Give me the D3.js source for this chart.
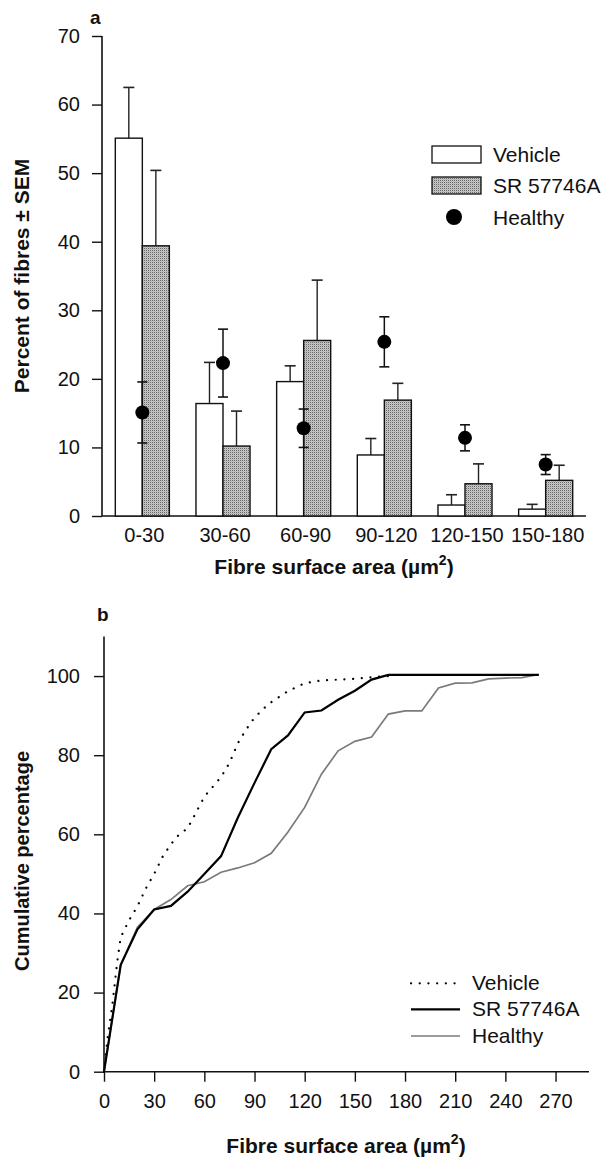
<!DOCTYPE html>
<html><head><meta charset="utf-8">
<script src="https://cdn.jsdelivr.net/npm/d3@7"></script>
<style>body{margin:0;background:#fff} text{font-family:Arial,"Liberation Sans",Helvetica,sans-serif;fill:#111}</style>
</head><body><svg id="c" width="605" height="1162" xmlns="http://www.w3.org/2000/svg"></svg>
<script>
// ---------- Panel a data ----------
const categories = ["0-30","30-60","60-90","90-120","120-150","150-180"];
const vehicleMean = [55.1,16.4,19.6,8.9,1.6,1.0];
const vehicleSem  = [7.4,6.0,2.3,2.4,1.5,0.7];
const srMean      = [39.4,10.2,25.6,16.9,4.7,5.2];
const srSem       = [11.0,5.1,8.8,2.45,2.9,2.2];
const healthyMean = [15.1,22.3,12.8,25.4,11.4,7.5];
const healthySem  = [4.45,4.95,2.8,3.65,1.9,1.45];
const yTicksA = [0,10,20,30,40,50,60,70];
const legendA = ["Vehicle","SR 57746A","Healthy"];

// ---------- Panel b data ----------
const vehicleCum = [[0,0],[2,8],[5,17],[8,28],[10,34],[15,38.3],[20,41.8],[25,46.3],[30,50],[35,54.3],[40,57.5],[45,60],[50,61.5],[55,65.5],[60,69.5],[65,72],[70,74.5],[75,78],[80,83],[85,86.5],[90,89.5],[97,92.4],[100,93.4],[110,96.2],[120,98.2],[130,98.9],[140,99.1],[150,99.3],[160,99.7],[170,100]];
const srCum = [[0,0],[10,27],[20,36],[30,41],[40,41.9],[50,45.5],[60,50],[70,54.5],[80,64.2],[90,73],[100,81.5],[110,85],[120,90.8],[130,91.3],[140,94],[150,96.3],[160,99.1],[170,100.3],[180,100.3],[200,100.3],[220,100.3],[240,100.3],[260,100.3]];
const healthyCum = [[0,0],[10,27],[20,36.5],[30,41],[40,43.5],[50,47],[60,48],[70,50.4],[80,51.5],[90,52.8],[100,55.2],[110,60.6],[120,66.8],[130,75.2],[140,81.1],[150,83.5],[160,84.6],[170,90.4],[180,91.2],[190,91.2],[200,97],[210,98.2],[220,98.3],[230,99.3],[240,99.5],[250,99.6],[260,100.4]];
const yTicksB = [0,20,40,60,80,100];
const xTicksB = [0,30,60,90,120,150,180,210,240,270];
const legendB = ["Vehicle","SR 57746A","Healthy"];

const svg = d3.select("#c");
const defs = svg.append("defs");
const pat = defs.append("pattern").attr("id","stip").attr("patternUnits","userSpaceOnUse").attr("width",2).attr("height",2);
pat.append("rect").attr("width",2).attr("height",2).attr("fill","#c9c9c9");
pat.append("rect").attr("width",1).attr("height",1).attr("fill","#666");
pat.append("rect").attr("x",1).attr("y",1).attr("width",1).attr("height",1).attr("fill","#b4b4b4");

const FS = 20;
// ================= Panel a =================
const xA = d3.scaleBand().domain(categories).range([102,586]);
const yA = d3.scaleLinear().domain([0,70]).range([516,36]);
const bw = xA.bandwidth()*0.335;
const cx = c => xA(c) + xA.bandwidth()/2;

const ga = svg.append("g");
// y axis
const axA = ga.append("g").attr("transform","translate(102,0)")
  .call(d3.axisLeft(yA).tickValues(yTicksA).tickSize(10).tickPadding(12).tickFormat(d3.format("d")));
axA.select(".domain").attr("stroke","#111").attr("stroke-width",1.6).attr("d","M0,36V516");
axA.selectAll(".tick line").attr("stroke","#111").attr("stroke-width",1.4);
axA.selectAll(".tick text").attr("font-size",FS).attr("fill","#111").attr("font-family","Arial, Liberation Sans, sans-serif");
// x axis line
ga.append("line").attr("x1",xA.range()[0]).attr("x2",xA.range()[1]).attr("y1",yA(0)).attr("y2",yA(0)).attr("stroke","#111").attr("stroke-width",1.6);
// category labels
ga.selectAll("text.cat").data(categories).join("text").attr("class","cat")
  .attr("x",d=>cx(d)+2).attr("y",542).attr("text-anchor","middle").attr("font-size",FS).text(d=>d);

// error bars for bars (upper only)
function barErr(means,sems,offset){
  categories.forEach((c,i)=>{
    const x = cx(c)+offset;
    ga.append("line").attr("x1",x).attr("x2",x).attr("y1",yA(means[i])).attr("y2",yA(means[i]+sems[i])).attr("stroke","#222").attr("stroke-width",1.4);
    ga.append("line").attr("x1",x-5.5).attr("x2",x+5.5).attr("y1",yA(means[i]+sems[i])).attr("y2",yA(means[i]+sems[i])).attr("stroke","#222").attr("stroke-width",1.6);
  });
}
barErr(vehicleMean,vehicleSem,-bw/2);
barErr(srMean,srSem,bw/2);
// bars
ga.selectAll("rect.veh").data(categories).join("rect").attr("class","veh")
  .attr("x",d=>cx(d)-bw).attr("width",bw)
  .attr("y",(d,i)=>yA(vehicleMean[i])).attr("height",(d,i)=>yA(0)-yA(vehicleMean[i]))
  .attr("fill","#fff").attr("stroke","#111").attr("stroke-width",1.4);
ga.selectAll("rect.sr").data(categories).join("rect").attr("class","sr")
  .attr("x",d=>cx(d)).attr("width",bw)
  .attr("y",(d,i)=>yA(srMean[i])).attr("height",(d,i)=>yA(0)-yA(srMean[i]))
  .attr("fill","url(#stip)").attr("stroke","#111").attr("stroke-width",1.4);
// healthy points with error bars
categories.forEach((c,i)=>{
  const x = cx(c), lo = yA(healthyMean[i]-healthySem[i]), hi = yA(healthyMean[i]+healthySem[i]);
  ga.append("line").attr("x1",x).attr("x2",x).attr("y1",lo).attr("y2",hi).attr("stroke","#111").attr("stroke-width",1.5);
  [lo,hi].forEach(yy=>ga.append("line").attr("x1",x-5).attr("x2",x+5).attr("y1",yy).attr("y2",yy).attr("stroke","#111").attr("stroke-width",1.6));
});
ga.selectAll("circle.h").data(categories).join("circle").attr("class","h")
  .attr("cx",d=>cx(d)).attr("cy",(d,i)=>yA(healthyMean[i])).attr("r",7).attr("fill","#000");

// legend a
ga.append("rect").attr("x",432).attr("y",146).attr("width",49).attr("height",17).attr("fill","#fff").attr("stroke","#111").attr("stroke-width",1.3);
ga.append("rect").attr("x",432).attr("y",177).attr("width",49).attr("height",17).attr("fill","url(#stip)").attr("stroke","#111").attr("stroke-width",1.3);
ga.append("circle").attr("cx",454).attr("cy",217).attr("r",8).attr("fill","#000");
legendA.forEach((t,i)=>ga.append("text").attr("x",493).attr("y",161.5+i*31.7).attr("font-size",21).text(t));

// titles a
ga.append("text").attr("x",90).attr("y",24).attr("font-size",19).attr("font-weight","bold").text("a");
ga.append("text").attr("transform","translate(29,276) rotate(-90)").attr("text-anchor","middle")
  .attr("font-size",21).attr("font-weight","bold").text("Percent of fibres ± SEM");
const tA = ga.append("text").attr("x",334).attr("y",574).attr("text-anchor","middle").attr("font-size",21).attr("font-weight","bold");
tA.append("tspan").text("Fibre surface area (µm");
tA.append("tspan").attr("dy",-9).attr("font-size",14).text("2");
tA.append("tspan").attr("dy",9).text(")");

// ================= Panel b =================
const xB = d3.scaleLinear().domain([0,290]).range([104,589]);
const yB = d3.scaleLinear().domain([0,110]).range([1071.7,636.5]);
const gb = svg.append("g");
const axBy = gb.append("g").attr("transform","translate(104,0)")
  .call(d3.axisLeft(yB).tickValues(yTicksB).tickSize(10).tickPadding(14).tickFormat(d3.format("d")));
axBy.select(".domain").attr("stroke","#111").attr("stroke-width",1.6).attr("d","M0,636.5V1071.7");
axBy.selectAll(".tick line").attr("stroke","#111").attr("stroke-width",1.4);
axBy.selectAll(".tick text").attr("font-size",FS).attr("fill","#111").attr("font-family","Arial, Liberation Sans, sans-serif");
const axBx = gb.append("g").attr("transform","translate(0,1071.7)")
  .call(d3.axisBottom(xB).tickValues(xTicksB).tickSize(10).tickPadding(12).tickFormat(d3.format("d")));
axBx.select(".domain").attr("stroke","#111").attr("stroke-width",1.6).attr("d","M104,0H589");
axBx.selectAll(".tick line").attr("stroke","#111").attr("stroke-width",1.4);
axBx.selectAll(".tick text").attr("font-size",FS).attr("fill","#111").attr("font-family","Arial, Liberation Sans, sans-serif");

const line = d3.line().x(d=>xB(d[0])).y(d=>yB(d[1]));
gb.append("path").datum(healthyCum).attr("d",line).attr("fill","none").attr("stroke","#7a7a7a").attr("stroke-width",1.7);
gb.append("path").datum(srCum).attr("d",line).attr("fill","none").attr("stroke","#000").attr("stroke-width",2.2);
gb.append("path").datum(vehicleCum).attr("d",line).attr("fill","none").attr("stroke","#000").attr("stroke-width",2.2)
  .attr("stroke-dasharray","0.1 8.6").attr("stroke-linecap","round");

// legend b
const lgY = [983.3,1009.3,1036];
gb.append("line").attr("x1",411).attr("x2",460).attr("y1",lgY[0]).attr("y2",lgY[0]).attr("stroke","#000").attr("stroke-width",2.2).attr("stroke-dasharray","0.1 8.6").attr("stroke-linecap","round");
gb.append("line").attr("x1",411).attr("x2",460).attr("y1",lgY[1]).attr("y2",lgY[1]).attr("stroke","#000").attr("stroke-width",2.2);
gb.append("line").attr("x1",411).attr("x2",460).attr("y1",lgY[2]).attr("y2",lgY[2]).attr("stroke","#7a7a7a").attr("stroke-width",1.7);
legendB.forEach((t,i)=>gb.append("text").attr("x",472).attr("y",lgY[i]+7).attr("font-size",21).text(t));

// titles b
gb.append("text").attr("x",97).attr("y",621).attr("font-size",19).attr("font-weight","bold").text("b");
gb.append("text").attr("transform","translate(29,861) rotate(-90)").attr("text-anchor","middle")
  .attr("font-size",20).attr("font-weight","bold").text("Cumulative percentage");
const tB = gb.append("text").attr("x",346).attr("y",1153).attr("text-anchor","middle").attr("font-size",21).attr("font-weight","bold");
tB.append("tspan").text("Fibre surface area (µm");
tB.append("tspan").attr("dy",-9).attr("font-size",14).text("2");
tB.append("tspan").attr("dy",9).text(")");
</script></body></html>
